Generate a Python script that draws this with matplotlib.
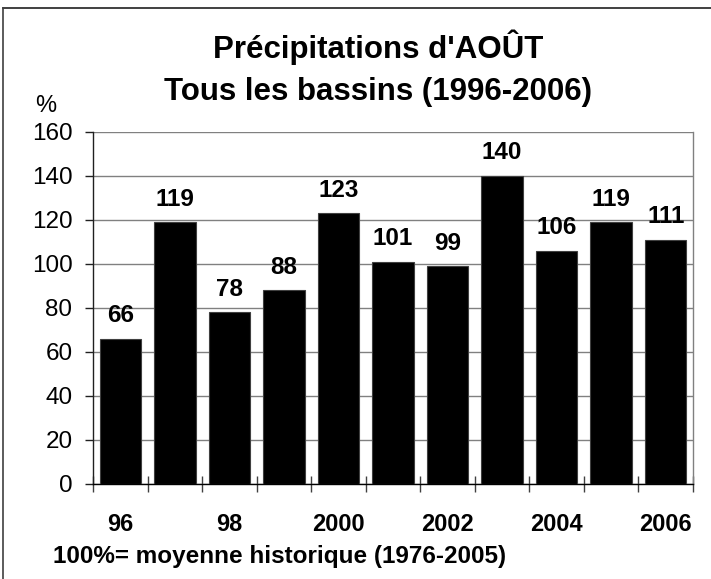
import matplotlib
matplotlib.use("Agg")
import matplotlib.pyplot as plt
import numpy as np

plt.rcParams['font.family'] = ['Liberation Sans', 'DejaVu Sans']

years = ['96', '97', '98', '99', '2000', '2001', '2002', '2003', '2004', '2005', '2006']
values = [66, 119, 78, 88, 123, 101, 99, 140, 106, 119, 111]
title1 = "Précipitations d'AOÛT"
title2 = "Tous les bassins (1996-2006)"
note = "100%= moyenne historique (1976-2005)"

W, H = 711, 579
fig = plt.figure(figsize=(W / 100, H / 100), dpi=100)
ax = fig.add_axes([93 / W, 1 - 484 / H, 600 / W, 352 / H])

x = np.arange(len(years))
ax.bar(x, values, width=0.76, color='black', edgecolor='#404040', linewidth=0.8, zorder=3)

for xi, v in zip(x, values):
    ax.annotate(str(v), (xi, v), xytext=(0, 12), textcoords='offset points',
                ha='center', va='baseline', fontsize=17.5, fontweight='bold')

ax.set_xlim(-0.5, len(years) - 0.5)
ax.set_ylim(0, 160)
ax.set_yticks(range(0, 161, 20))
ax.tick_params(axis='y', labelsize=17.5, length=5.8, width=1, pad=9, color='#202020')
ax.yaxis.grid(True, color='#808080', linewidth=1, zorder=0)

# labels every other year, tick marks between bars
ax.set_xticks(x[::2])
ax.set_xticklabels(years[::2], fontsize=17, fontweight='bold')
ax.tick_params(axis='x', which='major', length=0, pad=21)
ax.set_xticks(np.arange(-0.5, len(years), 1), minor=True)
ax.tick_params(axis='x', which='minor', direction='inout', length=11, width=1, color='#404040')

ax.spines['top'].set_visible(False)
ax.spines['right'].set_color('#808080')
ax.spines['left'].set_color('#202020')
ax.spines['bottom'].set_color('black')
for s in ax.spines.values():
    s.set_linewidth(1)

fig.text(378 / W, 1 - 58 / H, title1, ha='center', va='baseline', fontsize=22.5, fontweight='bold')
fig.text(378 / W, 1 - 100 / H, title2, ha='center', va='baseline', fontsize=22.5, fontweight='bold')
fig.text(46 / W, 1 - 106 / H, '%', ha='center', va='center', fontsize=17)
fig.text(53 / W, 1 - 563 / H, note, ha='left', va='baseline', fontsize=17.5, fontweight='bold')

# outer frame (cropped on the right and bottom)
fig.add_artist(plt.Line2D([3 / W, 1], [1 - 8 / H, 1 - 8 / H], color='#202020', linewidth=1.2, transform=fig.transFigure))
fig.add_artist(plt.Line2D([3 / W, 3 / W], [0, 1 - 8 / H], color='#404040', linewidth=1.2, transform=fig.transFigure))

fig.savefig('out.png', dpi=100)
